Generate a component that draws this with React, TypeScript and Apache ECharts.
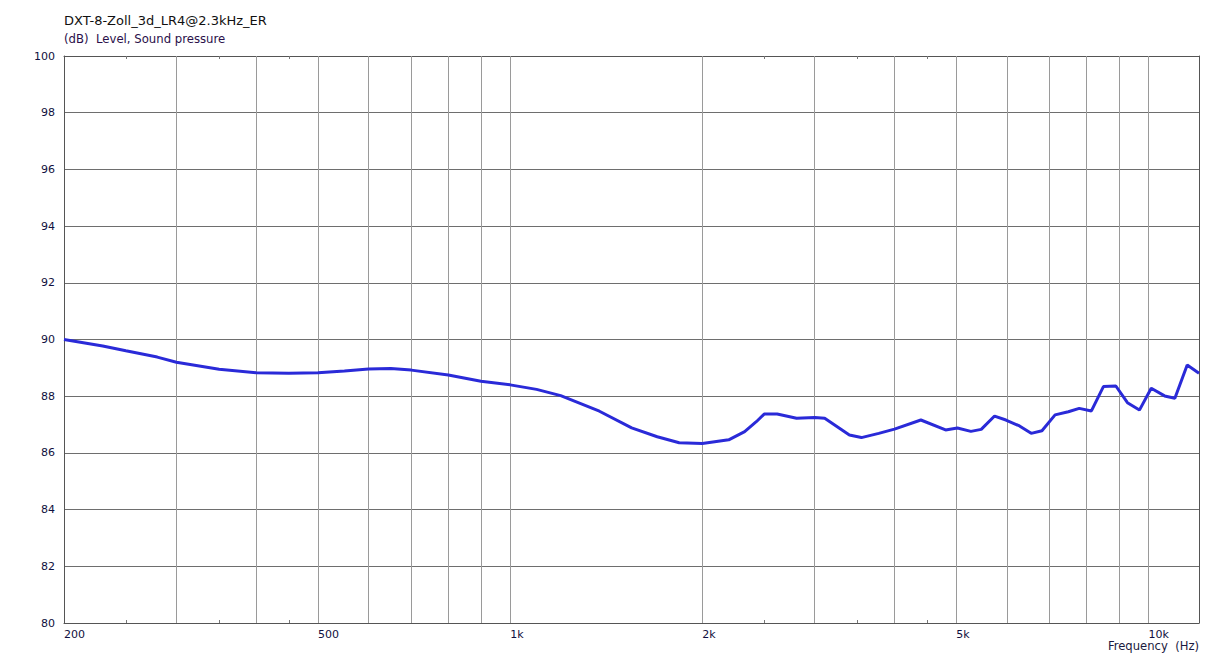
import React, { useEffect, useRef } from "react";
import * as echarts from "echarts";

const TITLE = "DXT-8-Zoll_3d_LR4@2.3kHz_ER";
const SUBTITLE = "(dB)  Level, Sound pressure";
const X_NAME = "Frequency  (Hz)";

const freqs = [200, 230, 250, 280, 300, 350, 400, 450, 500, 550, 600, 650, 700, 800, 900, 1000, 1100, 1200, 1380, 1550, 1700, 1840, 2000, 2200, 2330, 2430, 2500, 2620, 2810, 3000, 3110, 3400, 3550, 3780, 4000, 4400, 4810, 5020, 5270, 5470, 5740, 5980, 6280, 6550, 6810, 7140, 7490, 7790, 8140, 8500, 8890, 9270, 9680, 10100, 10600, 11000, 11500, 12000];
const levels = [90.0, 89.77, 89.6, 89.38, 89.2, 88.95, 88.83, 88.81, 88.83, 88.89, 88.96, 88.98, 88.92, 88.75, 88.53, 88.4, 88.24, 88.02, 87.47, 86.88, 86.57, 86.36, 86.33, 86.46, 86.75, 87.1, 87.37, 87.37, 87.22, 87.25, 87.22, 86.63, 86.54, 86.69, 86.84, 87.16, 86.81, 86.88, 86.76, 86.83, 87.3, 87.16, 86.95, 86.69, 86.78, 87.34, 87.45, 87.57, 87.48, 88.34, 88.36, 87.77, 87.51, 88.28, 88.01, 87.93, 89.1, 88.81];

const gridFreqs = [300, 400, 500, 600, 700, 800, 900, 1000, 2000, 3000, 4000, 5000, 6000, 7000, 8000, 9000, 10000];
const labelFreqs = [200, 500, 1000, 2000, 5000, 10000];
const minorTicks = [250, 350, 450, 2500, 3500, 4500];

const FONT = "'DejaVu Sans', sans-serif";

function fmt(v: number): string {
  return v >= 1000 ? v / 1000 + "k" : String(v);
}

export default function App() {
  const ref = useRef<HTMLDivElement>(null);
  useEffect(() => {
    if (!ref.current) return;
    const chart = echarts.init(ref.current, null, { renderer: "svg" });
    const xCommon = {
      type: "log" as const,
      logBase: 10,
      min: 200,
      max: 12000,
      splitLine: { show: false },
      axisLine: { show: true, lineStyle: { color: "#555", width: 1 } },
      axisTick: {
        show: true,
        inside: true,
        length: 3,
        customValues: minorTicks,
        lineStyle: { color: "#777", width: 1 },
      },
    };
    chart.setOption({
      animation: false,
      backgroundColor: "#fff",
      textStyle: { fontFamily: FONT },
      grid: { left: 64, right: 23, top: 56, bottom: 35, containLabel: false },
      graphic: [
        { type: "text", left: 64, top: 14, style: { text: TITLE, font: "13px " + FONT, fill: "#111" } },
        { type: "text", left: 64, top: 33, style: { text: SUBTITLE, font: "11.7px " + FONT, fill: "#2a0f4a" } },
        { type: "text", right: 23, top: 640, style: { text: X_NAME, font: "11.6px " + FONT, fill: "#1a1a40" } },
      ],
      xAxis: [
        {
          ...xCommon,
          position: "bottom",
          axisLabel: {
            show: true,
            customValues: labelFreqs,
            formatter: (v: number) => fmt(Math.round(v)),
            align: "left",
            margin: 6,
            color: "#101040",
            fontSize: 11,
            fontFamily: FONT,
          },
        },
        {
          ...xCommon,
          position: "top",
          axisLabel: { show: false },
        },
      ],
      yAxis: [
        {
          type: "value",
          min: 80,
          max: 100,
          interval: 2,
          axisLine: { show: true, lineStyle: { color: "#555", width: 1 } },
          axisTick: { show: false },
          splitLine: { show: true, lineStyle: { color: "#6e6e6e", width: 1 } },
          axisLabel: { color: "#101040", fontSize: 11, fontFamily: FONT, margin: 9 },
        },
        {
          type: "value",
          min: 80,
          max: 100,
          interval: 2,
          position: "right",
          axisLine: { show: true, lineStyle: { color: "#555", width: 1 } },
          axisTick: { show: false },
          splitLine: { show: false },
          axisLabel: { show: false },
        },
      ],
      series: [
        {
          type: "line",
          xAxisIndex: 0,
          yAxisIndex: 0,
          data: [],
          silent: true,
          markLine: {
            silent: true,
            symbol: "none",
            label: { show: false },
            lineStyle: { color: "#9a9a9a", width: 1, type: "solid" },
            data: gridFreqs.map((f) => ({ xAxis: f })),
          },
        },
        {
          type: "line",
          xAxisIndex: 0,
          yAxisIndex: 0,
          data: freqs.map((f, i) => [f, levels[i]]),
          showSymbol: false,
          symbol: "none",
          smooth: false,
          lineStyle: { color: "#2a2ad8", width: 3 },
          z: 5,
        },
      ],
    });
    return () => chart.dispose();
  }, []);
  return <div ref={ref} style={{ width: 1222, height: 658, position: "absolute", left: 0, top: 0 }} />;
}
